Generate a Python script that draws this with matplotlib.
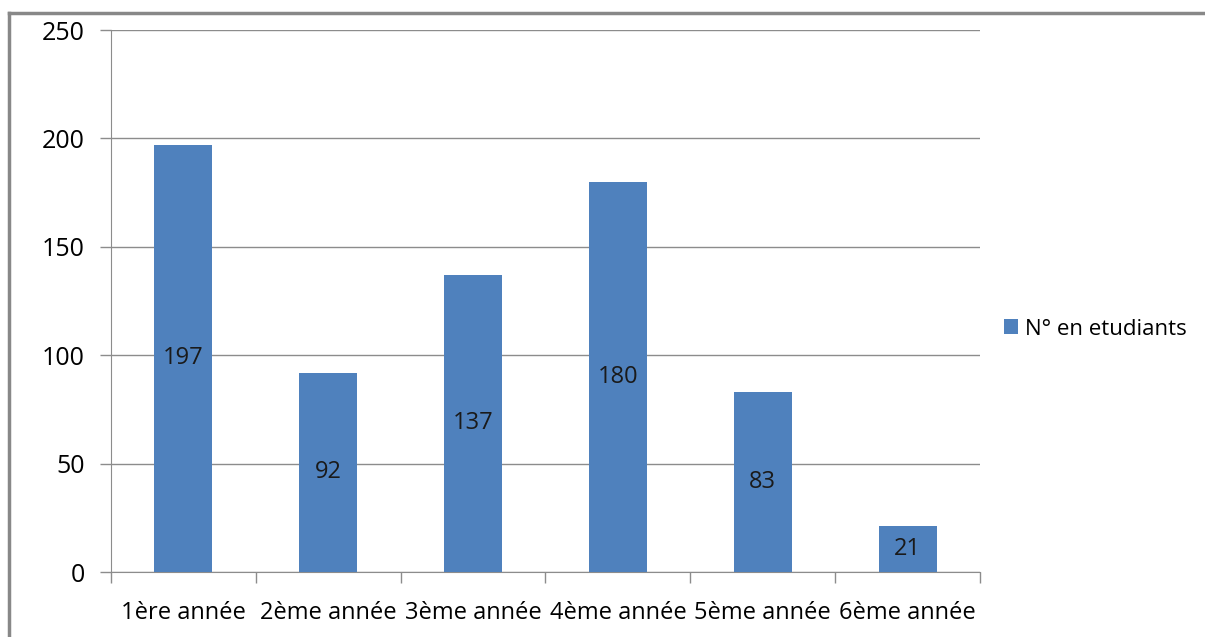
import matplotlib.pyplot as plt
from matplotlib.lines import Line2D
import numpy as np

categories = ["1ère année", "2ème année", "3ème année", "4ème année", "5ème année", "6ème année"]
values = [197, 92, 137, 180, 83, 21]
series_name = "N° en etudiants"
yticks = [0, 50, 100, 150, 200, 250]

bar_color = "#4F81BD"
grid_color = "#8C8C8C"

plt.rcParams['font.family'] = ['Open Sans', 'DejaVu Sans']

fig = plt.figure(figsize=(12.05, 6.37), dpi=100)
ax = fig.add_axes([111 / 1205, 1 - 572 / 637, (980 - 111) / 1205, (572 - 30) / 637])

x = np.arange(len(categories))
bars = ax.bar(x, values, width=0.4, color=bar_color, label=series_name, zorder=3)

for b, v in zip(bars, values):
    ax.text(b.get_x() + b.get_width() / 2, v / 2, str(v), ha='center', va='center',
            fontsize=17, color='#1a1a1a', zorder=4)

ax.set_xlim(-0.5, len(categories) - 0.5)
ax.set_ylim(0, 250)
ax.set_yticks(yticks)
ax.tick_params(axis='y', length=8, width=1, color=grid_color, labelsize=18, pad=11)
ax.yaxis.grid(True, color=grid_color, linewidth=1, zorder=0)

# category ticks sit on the boundaries, labels in the middle
ax.set_xticks(np.arange(len(categories) + 1) - 0.5)
ax.set_xticklabels([])
ax.tick_params(axis='x', length=8, width=1, color=grid_color)
ax.set_xticks(x, minor=True)
ax.set_xticklabels(categories, minor=True, fontsize=17)
ax.tick_params(axis='x', which='minor', length=0, pad=21)

for s in ['top', 'right']:
    ax.spines[s].set_visible(False)
for s in ['left', 'bottom']:
    ax.spines[s].set_color(grid_color)

fig.legend(handles=[bars], labels=[series_name], loc='center left',
           bbox_to_anchor=(1004 / 1205, 1 - 329 / 637), frameon=False,
           borderaxespad=0, borderpad=0,
           fontsize=16, handlelength=0.65, handleheight=0.65, handletextpad=0.3)

# outer chart border (top and left edges visible)
fig.add_artist(Line2D([9 / 1205, 9 / 1205], [0, 1 - 13 / 637], color='#888888', linewidth=2.5))
fig.add_artist(Line2D([9 / 1205, 1], [1 - 13 / 637, 1 - 13 / 637], color='#888888', linewidth=2.5))

fig.savefig("out.png", dpi=100)
